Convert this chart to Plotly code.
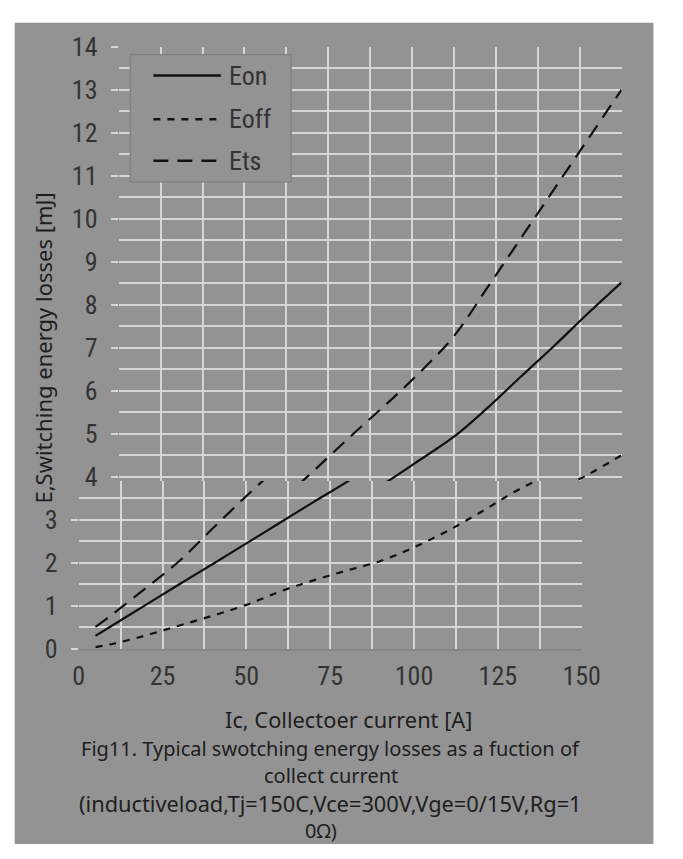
import plotly.graph_objects as go

# Collector current [A] and switching energy losses [mJ]
ic = [5, 10, 20, 30, 40, 50, 60, 70, 80, 90, 100, 110, 120, 130, 140, 150]
eon = [0.30, 0.54, 1.02, 1.50, 1.97, 2.45, 2.93, 3.41, 3.88, 4.40, 4.93, 5.60, 6.33, 7.05, 7.80, 8.52]
eoff = [0.04, 0.11, 0.31, 0.54, 0.77, 1.02, 1.33, 1.59, 1.82, 2.04, 2.36, 2.74, 3.18, 3.65, 4.05, 4.50]
ets = [0.51, 0.80, 1.41, 2.04, 2.80, 3.55, 4.27, 5.00, 5.70, 6.44, 7.27, 8.40, 9.55, 10.70, 11.85, 13.00]

series_names = ["Eon", "Eoff", "Ets"]
series_values = [eon, eoff, ets]
series_dash = ["solid", "7px,7px", "15px,9px"]

x_ticks = [0, 25, 50, 75, 100, 125, 150]
y_split = 3.9

W, H = 683, 859
BG = "#939393"
GRID = "#d6d6d6"
TXT = "#333333"
NARROW = "Liberation Sans Narrow, Arial Narrow, Roboto Condensed, sans-serif"
CAP = "Noto Sans, Open Sans, sans-serif"


def fx(p):
    return p / W


def fy(p):
    return 1 - p / H


fig = go.Figure()

# lower band of the chart (xaxis/yaxis) and upper band (xaxis2/yaxis2)
for name, vals, dash in zip(series_names, series_values, series_dash):
    for xa, ya in (("x", "y"), ("x2", "y2")):
        fig.add_trace(go.Scatter(
            x=ic, y=vals, mode="lines", name=name, showlegend=False,
            xaxis=xa, yaxis=ya, line_shape="spline",
            line=dict(color="#111111", width=2.2, dash=dash),
        ))

y0_px = 656.7
unit_px = 44.57
split_px = y0_px - y_split * unit_px
top_px = y0_px - 14 * unit_px

xcommon = dict(range=[0, 150], tickvals=x_ticks, showgrid=True, gridcolor=GRID,
               gridwidth=1.5, zeroline=False, ticks="",
               minor=dict(dtick=12.5, tick0=0, showgrid=True, gridcolor=GRID, gridwidth=1.5),
               tickfont=dict(family=NARROW, size=26, color=TXT))
ycommon = dict(dtick=1, showgrid=True, gridcolor=GRID, gridwidth=1.5, zeroline=False,
               ticks="outside", ticklen=7, tickcolor=GRID, tickwidth=1.5,
               minor=dict(dtick=0.5, tick0=0, showgrid=True, gridcolor=GRID, gridwidth=1.5),
               tickfont=dict(family=NARROW, size=26, color=TXT), ticklabelstandoff=8)

fig.update_layout(
    width=W, height=H,
    margin=dict(l=0, r=0, t=0, b=0),
    paper_bgcolor="white",
    plot_bgcolor="rgba(0,0,0,0)",
    showlegend=False,
    xaxis=dict(domain=[fx(75.5), fx(597.5)], anchor="y", showline=True,
               linecolor="#868686", linewidth=1.5, ticklabelstandoff=3, **xcommon),
    yaxis=dict(domain=[fy(y0_px), fy(split_px)], anchor="x", range=[0, y_split], **ycommon),
    xaxis2=dict(domain=[fx(117), fx(639)], anchor="y2", showticklabels=False, **xcommon),
    yaxis2=dict(domain=[fy(split_px), fy(top_px)], anchor="x2", range=[y_split, 14], **ycommon),
)

shapes = [
    dict(type="rect", xref="paper", yref="paper", layer="below",
         x0=fx(9), x1=fx(672), y0=fy(859), y1=fy(8), fillcolor=BG, line=dict(width=0)),
    # legend frame
    dict(type="rect", xref="paper", yref="paper", layer="above",
         x0=fx(129), x1=fx(296), y0=fy(173), y1=fy(41), fillcolor=BG,
         line=dict(color="#7f7f7f", width=1.2)),
]
annotations = []
leg_y = [62.7, 108, 151]
for name, dash, ly in zip(series_names, series_dash, leg_y):
    shapes.append(dict(type="line", xref="paper", yref="paper", layer="above",
                       x0=fx(153), x1=fx(223), y0=fy(ly), y1=fy(ly),
                       line=dict(color="#111111", width=2.4, dash=dash)))
    annotations.append(dict(xref="paper", yref="paper", x=fx(229), y=fy(ly), text=name,
                            showarrow=False, xanchor="left", yanchor="middle",
                            font=dict(family=NARROW, size=26, color=TXT)))

annotations.append(dict(xref="paper", yref="paper", x=fx(38), y=fy(345),
                        text="E,Switching energy losses [mJ]", textangle=-90,
                        showarrow=False, xanchor="center", yanchor="middle",
                        font=dict(family=CAP, size=22, color="#1e1e1e")))

caption = [
    ("Ic, Collectoer current [A]", 355, 730, 21.8),
    ("Fig11. Typical swotching energy losses as a fuction of", 337, 760, 20),
    ("collect current", 337, 788, 20),
    ("(inductiveload,Tj=150C,Vce=300V,Vge=0/15V,Rg=1", 337, 817, 21.8),
    ("0\u03a9)", 327, 845, 20),
]
for text, cx, cy, size in caption:
    annotations.append(dict(xref="paper", yref="paper", x=fx(cx), y=fy(cy), text=text,
                            showarrow=False, xanchor="center", yanchor="middle",
                            font=dict(family=CAP, size=size, color="#1e1e1e")))

fig.update_layout(shapes=shapes, annotations=annotations)
fig.write_html("out.html")
